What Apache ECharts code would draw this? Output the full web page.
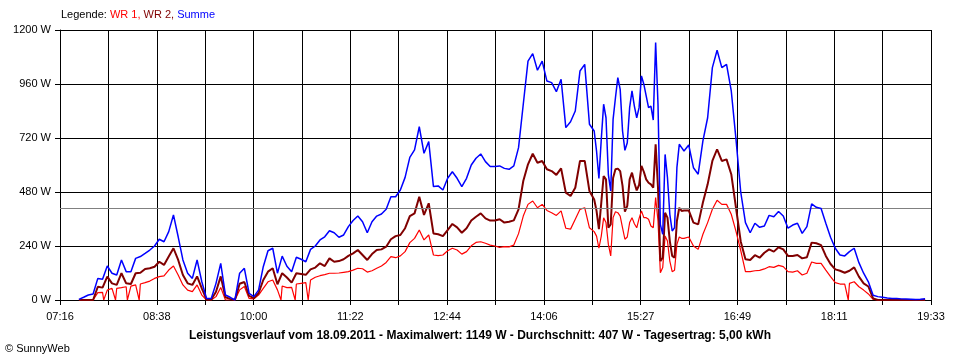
<!DOCTYPE html>
<html><head><meta charset="utf-8">
<script src="https://cdn.jsdelivr.net/npm/echarts@6/dist/echarts.min.js"></script>
<style>html,body{margin:0;padding:0;background:#fff}#c{width:960px;height:360px}</style>
</head><body><div id="c"></div>
<script>
// ---- data ----
const xTickLabels = ['07:16','08:38','10:00','11:22','12:44','14:06','15:27','16:49','18:11','19:33'];
const yMax = 1200, yStep = 240;
const averageW = 407;

const times = ['07:32','07:36','07:40','07:44','07:48','07:52','07:56','08:00','08:04','08:08','08:12','08:16','08:20','08:24','08:28','08:32','08:36','08:40','08:44','08:48','08:52','08:56','09:00','09:04','09:08','09:12','09:16','09:20','09:24','09:28','09:32','09:36','09:40','09:44','09:48','09:52','09:56','10:00','10:04','10:08','10:12','10:16','10:20','10:24','10:28','10:32','10:36','10:40','10:44','10:48','10:52','10:56','11:00','11:04','11:08','11:12','11:16','11:20','11:24','11:28','11:32','11:36','11:40','11:44','11:48','11:52','11:56','12:00','12:04','12:08','12:12','12:16','12:20','12:24','12:28','12:32','12:36','12:40','12:44','12:48','12:52','12:56','13:00','13:04','13:08','13:12','13:16','13:20','13:24','13:28','13:32','13:36','13:40','13:44','13:48','13:52','13:56','14:00','14:04','14:08','14:12','14:16','14:20','14:24','14:28','14:32','14:36','14:40','14:44','14:48','14:50','14:52','14:54','14:56','14:58','15:00','15:02','15:04','15:06','15:08','15:10','15:12','15:14','15:16','15:18','15:20','15:22','15:24','15:26','15:28','15:30','15:32','15:34','15:36','15:38','15:40','15:42','15:44','15:46','15:48','15:50','15:52','15:54','15:56','15:58','16:00','16:02','16:04','16:08','16:12','16:16','16:20','16:24','16:28','16:32','16:36','16:40','16:44','16:48','16:52','16:56','17:00','17:04','17:08','17:12','17:16','17:20','17:24','17:28','17:32','17:36','17:40','17:44','17:48','17:52','17:56','18:00','18:04','18:08','18:12','18:16','18:20','18:24','18:28','18:32','18:36','18:40','18:44','18:48','18:52','18:56','19:00','19:04','19:08','19:12','19:16','19:20','19:24','19:28'];

const summe = [3,12,22,27,96,92,151,119,111,178,126,126,185,193,207,222,240,270,259,304,378,281,178,119,96,178,81,7,7,74,163,22,12,0,119,141,30,15,44,148,219,230,119,195,150,126,190,181,170,225,240,267,281,308,299,279,289,326,353,373,348,299,348,373,382,403,459,459,489,545,634,667,770,652,704,504,507,489,541,570,541,504,541,600,630,649,615,593,593,596,585,581,596,677,870,1062,1095,1021,1062,973,966,926,981,766,792,840,1018,1047,781,751,662,540,714,870,810,557,484,803,899,988,936,751,665,699,855,929,862,810,855,996,959,907,855,862,800,1144,870,336,292,647,544,381,307,321,588,692,677,662,689,588,559,707,810,1033,1110,1033,1047,929,714,480,344,299,341,323,329,376,370,393,373,319,333,341,296,326,427,412,407,341,279,230,200,196,215,230,166,119,81,21,15,12,9,7,7,5,4,3,2,3,6];

const wr2 = [0,0,0,0,59,55,104,74,67,119,74,71,119,121,138,141,148,170,156,193,230,178,111,74,67,105,52,2,2,37,105,12,5,0,72,80,18,8,30,89,126,141,70,119,100,77,119,116,112,136,144,163,151,185,170,173,181,196,207,222,200,178,204,222,225,237,270,284,289,319,373,385,459,378,430,296,292,284,311,338,323,299,319,353,370,385,363,353,353,359,344,348,354,403,529,603,650,610,618,581,573,556,585,477,462,499,618,618,484,447,396,315,432,551,536,321,336,542,581,584,573,507,393,418,536,566,521,487,511,596,570,536,521,514,499,692,499,173,188,388,366,262,196,188,351,410,396,398,398,344,336,433,514,618,670,618,625,559,410,260,181,178,199,188,210,225,215,234,225,196,196,200,185,190,255,252,244,196,160,136,130,121,130,145,104,74,60,7,0,0,0,0,0,0,0,0,0,0,0];

const wr1 = [0,0,0,0,33,34,44,52,52,55,59,62,67,71,77,84,96,104,107,133,151,111,67,44,37,67,22,0,0,15,56,0,0,0,45,60,7,5,22,52,81,89,45,62,55,56,71,74,77,89,101,108,113,119,119,120,123,126,133,141,139,124,130,141,151,167,193,188,196,215,255,274,311,267,289,200,197,200,219,230,222,204,215,241,256,259,252,244,240,234,237,236,244,295,373,425,440,410,425,398,388,376,396,319,315,359,403,410,321,304,284,230,284,365,344,247,196,366,392,388,373,321,270,280,344,366,339,321,363,396,366,366,359,329,321,455,351,121,144,284,262,173,126,132,247,280,274,274,280,240,225,292,344,403,443,425,425,381,305,220,126,126,130,132,138,148,145,154,148,126,124,130,111,119,169,163,163,133,104,77,71,71,74,81,59,44,27,3,0,0,0,0,0,0,0,0,0,0,0];

// short drops of WR 1 to zero
const wr1Drops = ['07:53','08:03','08:13','08:23','10:23','10:35','10:46','18:23'];

// ---- helpers ----
function toMin(s){ const p = s.split(':'); return +p[0]*60 + +p[1]; }
const t0 = toMin(xTickLabels[0]), t1 = toMin(xTickLabels[xTickLabels.length-1]);
const halfSteps = (xTickLabels.length - 1) * 2;
const toUnit = m => (m - t0) * halfSteps / (t1 - t0);

const sData = times.map((t,i) => [toUnit(toMin(t)), summe[i]]);
const w2Data = times.map((t,i) => [toUnit(toMin(t)), wr2[i]]);
const w1Data = times.map((t,i) => [toUnit(toMin(t)), wr1[i]])
  .concat(wr1Drops.map(t => [toUnit(toMin(t)), 0]))
  .sort((a,b) => a[0]-b[0]);

const FONT = '"Liberation Sans", Arial, sans-serif';
const chart = echarts.init(document.getElementById('c'), null, {renderer:'canvas'});
chart.setOption({
  animation: false,
  backgroundColor: '#fff',
  textStyle: {fontFamily: FONT},
  title: [
    {
      left: 61, top: 9, padding: 0,
      text: '{k|Legende: }{a|WR 1, }{b|WR 2, }{c|Summe}',
      textStyle: {
        fontSize: 11, fontWeight: 'normal', fontFamily: FONT,
        rich: {
          k: {color: '#000', fontSize: 11, fontFamily: FONT},
          a: {color: '#ff0000', fontSize: 11, fontFamily: FONT},
          b: {color: '#800000', fontSize: 11, fontFamily: FONT},
          c: {color: '#0000ff', fontSize: 11, fontFamily: FONT}
        }
      }
    },
    {
      left: 'center', top: 330, padding: 0,
      text: 'Leistungsverlauf vom 18.09.2011 - Maximalwert: 1149 W - Durchschnitt: ' + averageW + ' W - Tagesertrag: 5,00 kWh',
      textStyle: {fontSize: 12, fontWeight: 'bold', color: '#000', fontFamily: FONT}
    },
    {
      left: 5, top: 343, padding: 0,
      text: '© SunnyWeb',
      textStyle: {fontSize: 11, fontWeight: 'normal', color: '#000', fontFamily: FONT}
    }
  ],
  grid: {left: 60, top: 30, width: 871, height: 270, containLabel: false},
  xAxis: {
    type: 'value', min: 0, max: halfSteps, interval: 1,
    axisLine: {show: true, onZero: false, lineStyle: {color: '#000', width: 1}},
    axisTick: {show: true, inside: false, length: 5, lineStyle: {color: '#000'}},
    splitLine: {show: true, lineStyle: {color: '#000', width: 1}},
    axisLabel: {
      margin: 11, color: '#000', fontSize: 11, fontFamily: FONT,
      showMinLabel: true, showMaxLabel: true,
      formatter: v => { const i = Math.round(v); return i % 2 === 0 ? xTickLabels[i/2] : ''; }
    }
  },
  yAxis: {
    type: 'value', min: 0, max: yMax, interval: yStep,
    axisLine: {show: true, lineStyle: {color: '#000', width: 1}},
    axisTick: {show: true, inside: false, length: 5, lineStyle: {color: '#000'}},
    splitLine: {show: true, lineStyle: {color: '#000', width: 1}},
    axisLabel: {margin: 9, color: '#000', fontSize: 11, fontFamily: FONT, formatter: v => v + ' W'}
  },
  series: [
    {
      name: 'WR 1', type: 'line', data: w1Data, showSymbol: false, symbol: 'none',
      lineStyle: {color: '#ff0000', width: 1.2}, z: 3,
      markLine: {
        silent: true, symbol: 'none', label: {show: false},
        lineStyle: {color: '#808080', width: 1, type: 'solid'},
        data: [{yAxis: averageW}]
      }
    },
    {
      name: 'WR 2', type: 'line', data: w2Data, showSymbol: false, symbol: 'none',
      lineStyle: {color: '#800000', width: 2}, z: 4
    },
    {
      name: 'Summe', type: 'line', data: sData, showSymbol: false, symbol: 'none',
      lineStyle: {color: '#0000ff', width: 1.5}, z: 5
    }
  ]
});
</script>
</body></html>
